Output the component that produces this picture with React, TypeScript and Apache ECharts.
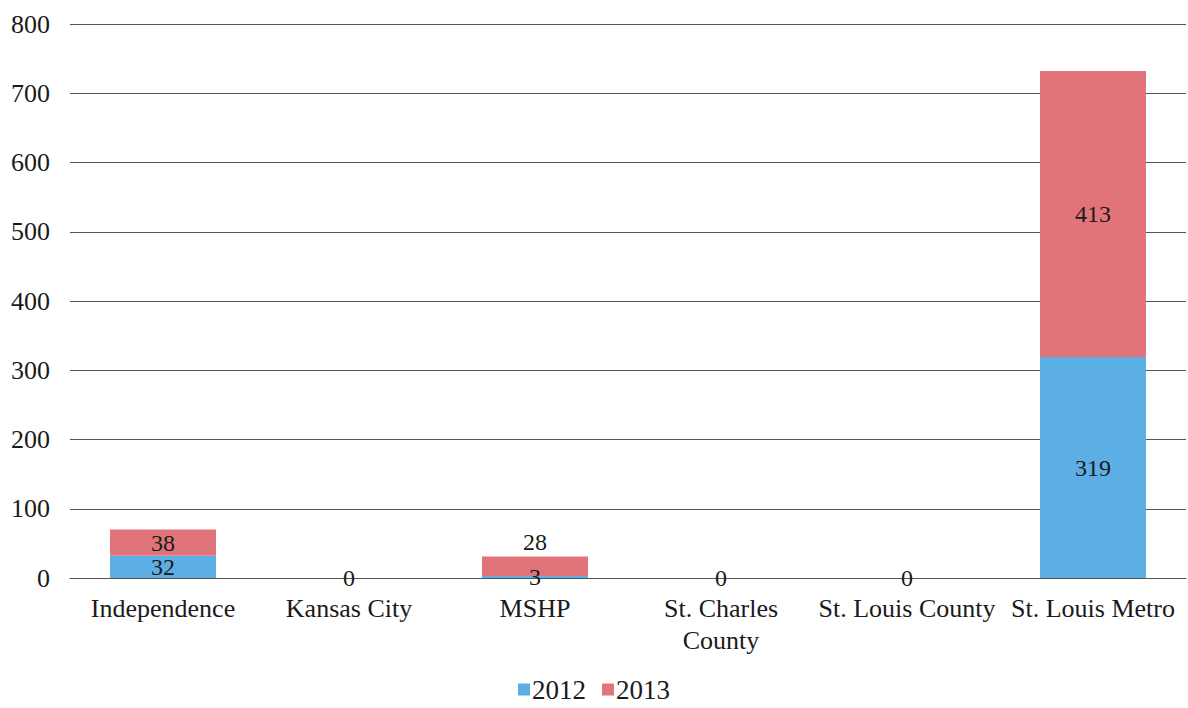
import React, { useEffect, useRef } from "react";
import * as echarts from "echarts";

const categories = ["Independence", "Kansas City", "MSHP", "St. Charles\nCounty", "St. Louis County", "St. Louis Metro"];
const values2012 = [32, 0, 3, 0, 0, 319];
const values2013 = [38, 0, 28, 0, 0, 413];
const yTicks = [0, 100, 200, 300, 400, 500, 600, 700, 800];

const FONT = "'Liberation Serif', 'Times New Roman', serif";

export default function App() {
  const ref = useRef<HTMLDivElement>(null);
  useEffect(() => {
    if (!ref.current) return;
    const chart = echarts.init(ref.current, null, { renderer: "svg" });
    const labelBase = { show: true, color: "#1a1a1a", fontFamily: FONT, fontSize: 24 };
    chart.setOption({
      animation: false,
      backgroundColor: "#ffffff",
      grid: { left: 70, right: 2, top: 24, bottom: 130 },
      legend: {
        bottom: 0,
        left: "center",
        itemWidth: 12,
        itemHeight: 12,
        itemGap: 16,
        icon: "rect",
        textStyle: { fontFamily: FONT, fontSize: 27, color: "#1a1a1a", padding: [0, 0, 0, -3] },
        data: ["2012", "2013"],
      },
      xAxis: {
        type: "category",
        data: categories,
        axisLine: { show: true, lineStyle: { color: "#555", width: 1 } },
        axisTick: { show: false },
        axisLabel: { fontFamily: FONT, fontSize: 26, color: "#1a1a1a", margin: 14, lineHeight: 32, interval: 0 },
      },
      yAxis: {
        type: "value",
        min: yTicks[0],
        max: yTicks[yTicks.length - 1],
        interval: 100,
        axisLine: { show: false },
        axisTick: { show: false },
        axisLabel: { fontFamily: FONT, fontSize: 26, color: "#1a1a1a", margin: 20 },
        splitLine: { lineStyle: { color: "#555", width: 1 } },
      },
      series: [
        {
          name: "2012",
          type: "bar",
          stack: "total",
          barWidth: "57%",
          itemStyle: { color: "#5CAFE4" },
          label: { ...labelBase, position: "inside" },
          data: values2012,
        },
        {
          name: "2013",
          type: "bar",
          stack: "total",
          barWidth: "57%",
          itemStyle: { color: "#E0747A" },
          label: {
            ...labelBase,
            position: "inside",
            formatter: (p: any) => (p.value === 0 ? "" : String(p.value)),
          },
          data: values2013.map((v, i) =>
            categories[i] === "MSHP" ? { value: v, label: { position: "top", distance: 3 } } : v
          ),
        },
      ],
    });
    return () => chart.dispose();
  }, []);
  return (
    <div
      ref={ref}
      style={{ position: "absolute", left: 0, top: 0, width: 1188, height: 708 }}
    />
  );
}
